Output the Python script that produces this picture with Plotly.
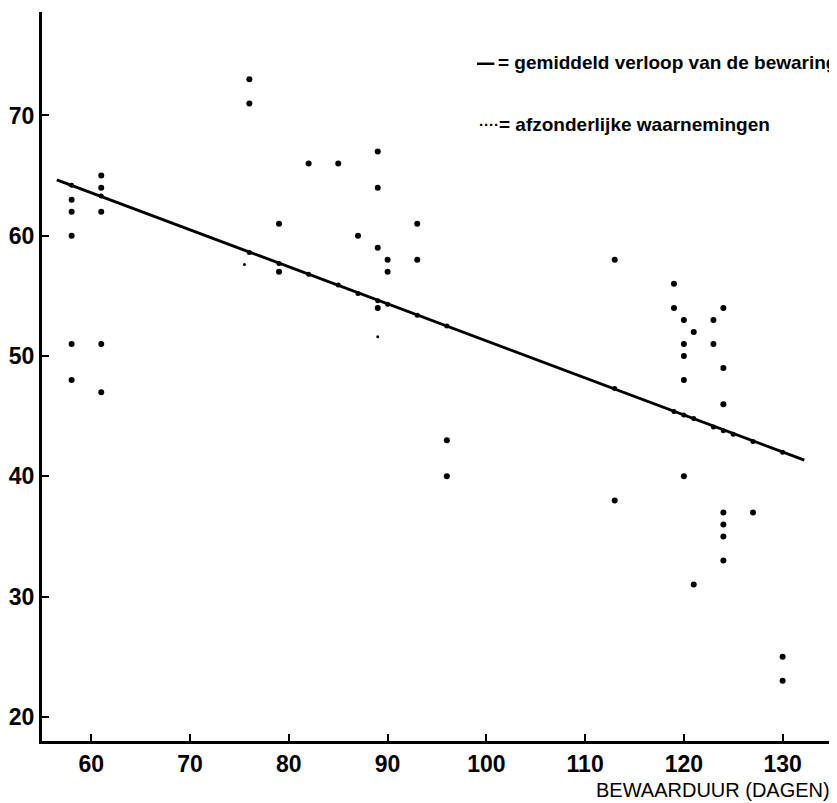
import plotly.graph_objects as go

# Individual observations (days of storage, value)
obs_x = [58, 58, 58, 58, 58,
         61, 61, 61, 61, 61,
         76, 76, 79, 79, 82, 85, 87,
         89, 89, 89, 89, 90, 90, 93, 93, 96, 96,
         113, 113, 119, 119,
         120, 120, 120, 120, 120,
         121, 121, 123, 123,
         124, 124, 124, 124, 124, 124, 124,
         127, 130, 130]
obs_y = [63, 62, 60, 51, 48,
         65, 64, 62, 51, 47,
         73, 71, 61, 57, 66, 66, 60,
         67, 64, 59, 54, 58, 57, 61, 58, 43, 40,
         58, 38, 56, 54,
         53, 51, 50, 48, 40,
         52, 31, 53, 51,
         54, 49, 46, 37, 36, 35, 33,
         37, 25, 23]

# Observations that fall on the average line
online_x = [58, 61, 76, 79, 82, 85, 87, 89, 90, 93, 96,
            113, 119, 120, 121, 123, 124, 125, 127, 130]
online_y = [64.2, 63.3, 58.6, 57.7, 56.8, 55.9, 55.2, 54.6, 54.3, 53.4, 52.5,
            47.3, 45.4, 45.1, 44.8, 44.1, 43.8, 43.5, 42.9, 42.0]

# Faint observations
faint_x = [75.5, 89]
faint_y = [57.6, 51.6]

# Average course of storage (regression line)
line_x = [56.5, 132.2]
line_y = [64.65, 41.35]

x_ticks = [60, 70, 80, 90, 100, 110, 120, 130]
y_ticks = [20, 30, 40, 50, 60, 70]

fig = go.Figure()
fig.add_trace(go.Scatter(x=line_x, y=line_y, mode="lines",
                         line=dict(color="black", width=3), hoverinfo="skip"))
fig.add_trace(go.Scatter(x=online_x, y=online_y, mode="markers",
                         marker=dict(color="black", size=5)))
fig.add_trace(go.Scatter(x=obs_x, y=obs_y, mode="markers",
                         marker=dict(color="black", size=6)))
fig.add_trace(go.Scatter(x=faint_x, y=faint_y, mode="markers",
                         marker=dict(color="black", size=3)))

tickfont = dict(family="Liberation Sans, Arial, sans-serif", size=23, color="black", weight="bold")
fig.update_xaxes(range=[55, 134.8], tickvals=x_ticks, ticktext=[str(v) for v in x_ticks],
                 showgrid=False, zeroline=False, showline=True, linecolor="black", linewidth=3,
                 ticks="inside", ticklen=7, tickwidth=2, tickcolor="black",
                 tickfont=tickfont, ticklabelstandoff=0, automargin=False)
fig.update_yaxes(range=[18.0, 78.6], tickvals=y_ticks, ticktext=[str(v) for v in y_ticks],
                 showgrid=False, zeroline=False, showline=True, linecolor="black", linewidth=3,
                 ticks="inside", ticklen=7, tickwidth=2, tickcolor="black",
                 tickfont=tickfont, ticklabelstandoff=0, automargin=False)

legend_font = dict(family="Liberation Sans, Arial, sans-serif", size=19, color="black", weight="bold")
fig.add_shape(type="line", xref="paper", yref="paper", x0=0.552, x1=0.574, y0=0.929, y1=0.929,
              line=dict(color="black", width=2.5))
fig.add_annotation(xref="paper", yref="paper", x=0.576, y=0.931, xanchor="left", yanchor="middle",
                   text="= gemiddeld verloop van de bewaring", showarrow=False, font=legend_font)
fig.add_annotation(xref="paper", yref="paper", x=0.552, y=0.846, xanchor="left", yanchor="middle",
                   text="····", showarrow=False,
                   font=dict(family="Liberation Sans, Arial, sans-serif", size=15, color="black", weight="bold"))
fig.add_annotation(xref="paper", yref="paper", x=0.577, y=0.846, xanchor="left", yanchor="middle",
                   text="= afzonderlijke waarnemingen", showarrow=False, font=legend_font)
fig.add_annotation(xref="paper", yref="paper", x=1.0025, y=-0.067, xanchor="right", yanchor="middle",
                   text="BEWAARDUUR (DAGEN)", showarrow=False,
                   font=dict(family="Liberation Sans, Arial, sans-serif", size=20, color="black"))

# The page body adds an 8 px margin, so the figure is sized and offset to compensate.
fig.update_layout(width=829, height=795, showlegend=False,
                  paper_bgcolor="white", plot_bgcolor="white",
                  margin=dict(l=34, r=7, t=4, b=62, autoexpand=False))
fig.write_html("out.html")
